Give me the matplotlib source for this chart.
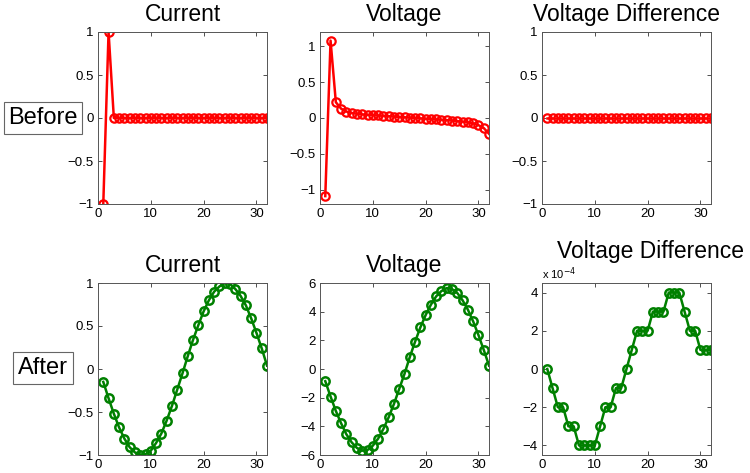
import matplotlib
matplotlib.use('Agg')
import matplotlib.pyplot as plt
from matplotlib.ticker import FuncFormatter
import numpy as np

plt.rcParams['font.family'] = ['Liberation Sans', 'DejaVu Sans']

# sample index 1..32
n = list(range(1, 33))

# before
cur_before = [-1, 1] + [0]*30
volt_before = [-1.09, 1.08, 0.22, 0.13, 0.09, 0.07, 0.06, 0.05, 0.045, 0.04,
               0.035, 0.03, 0.025, 0.02, 0.015, 0.01, 0.005, 0.0, -0.005, -0.01,
               -0.015, -0.02, -0.025, -0.03, -0.035, -0.045, -0.05, -0.06, -0.075, -0.1,
               -0.14, -0.22]
vdiff_before = [0]*32

# after
cur_after = [-0.15, -0.34, -0.52, -0.68, -0.81, -0.91, -0.97, -1.0, -0.99, -0.95,
             -0.86, -0.75, -0.60, -0.43, -0.24, -0.05, 0.15, 0.34, 0.51, 0.67,
             0.80, 0.90, 0.96, 1.0, 0.99, 0.93, 0.85, 0.74, 0.59, 0.42,
             0.24, 0.04]
volt_after = [-0.85, -1.92, -2.93, -3.79, -4.56, -5.12, -5.51, -5.70, -5.65, -5.35,
              -4.86, -4.18, -3.37, -2.44, -1.39, -0.34, 0.83, 1.90, 2.90, 3.76,
              4.49, 5.07, 5.44, 5.65, 5.58, 5.30, 4.79, 4.14, 3.32, 2.37,
              1.34, 0.24]
# in units of 1e-4
vdiff_after = [0, -1, -2, -2, -3, -3, -4, -4, -4, -4,
               -3, -2, -2, -1, -1, 0, 1, 2, 2, 2,
               3, 3, 3, 4, 4, 4, 3, 2, 2, 1,
               1, 1]

titles = ['Current', 'Voltage', 'Voltage Difference']
row_labels = ['Before', 'After']

fig = plt.figure(figsize=(7.5, 4.73), dpi=100)

lefts = [98/750., 320/750., 542/750.]
bottoms = [(473-204)/473., (473-455)/473.]
w = 169/750.
h = 172/473.

fmt = FuncFormatter(lambda v, p: ('%g' % v).replace('-', '\u2212'))

def style(ax, ylim, yticks):
    ax.set_xlim(0, 32)
    ax.set_ylim(ylim)
    ax.set_xticks([0, 10, 20, 30])
    ax.set_yticks(yticks)
    ax.yaxis.set_major_formatter(fmt)
    ax.tick_params(direction='in', top=True, right=True, labelsize=9.5,
                   length=3, width=0.6, colors='#333333', labelcolor='black', pad=3)
    for s in ax.spines.values():
        s.set_color('#555555')
        s.set_linewidth(0.7)

before = [cur_before, volt_before, vdiff_before]
after = [cur_after, volt_after, vdiff_after]
ylims_b = [(-1, 1), (-1.2, 1.2), (-1, 1)]
ylims_a = [(-1, 1), (-6, 6), (-4.5, 4.5)]
yt_b = [[-1, -0.5, 0, 0.5, 1]]*3
yt_a = [[-1, -0.5, 0, 0.5, 1], [-6, -4, -2, 0, 2, 4, 6], [-4, -2, 0, 2, 4]]

for j in range(3):
    ax = fig.add_axes([lefts[j], bottoms[0], w, h])
    ax.plot(n, before[j], '-o', color='#ff0000', lw=1.8, ms=6, mew=1.6, mfc='none')
    style(ax, ylims_b[j], yt_b[j])
    ax.set_title(titles[j], fontsize=16.5, pad=8)

    ax = fig.add_axes([lefts[j], bottoms[1], w, h])
    ax.plot(n, after[j], '-o', color='#008000', lw=1.8, ms=6, mew=1.8, mfc='none')
    style(ax, ylims_a[j], yt_a[j])
    if j == 2:
        ax.set_title(titles[j], fontsize=16.5, pad=18, x=0.64)
        ax.text(0.0, 1.005, r'x 10$^{-4}$', transform=ax.transAxes, fontsize=8,
                ha='left', va='bottom')
    else:
        ax.set_title(titles[j], fontsize=16.5, pad=8)

fig.text(43/750., 1 - 118/473., row_labels[0], fontsize=17, ha='center', va='center',
         bbox=dict(boxstyle='square,pad=0.2', fc='white', ec='#666666', lw=0.8))
fig.text(43/750., 1 - 368/473., row_labels[1], fontsize=17, ha='center', va='center',
         bbox=dict(boxstyle='square,pad=0.2', fc='white', ec='#666666', lw=0.8))

plt.savefig('out.png', dpi=100)
